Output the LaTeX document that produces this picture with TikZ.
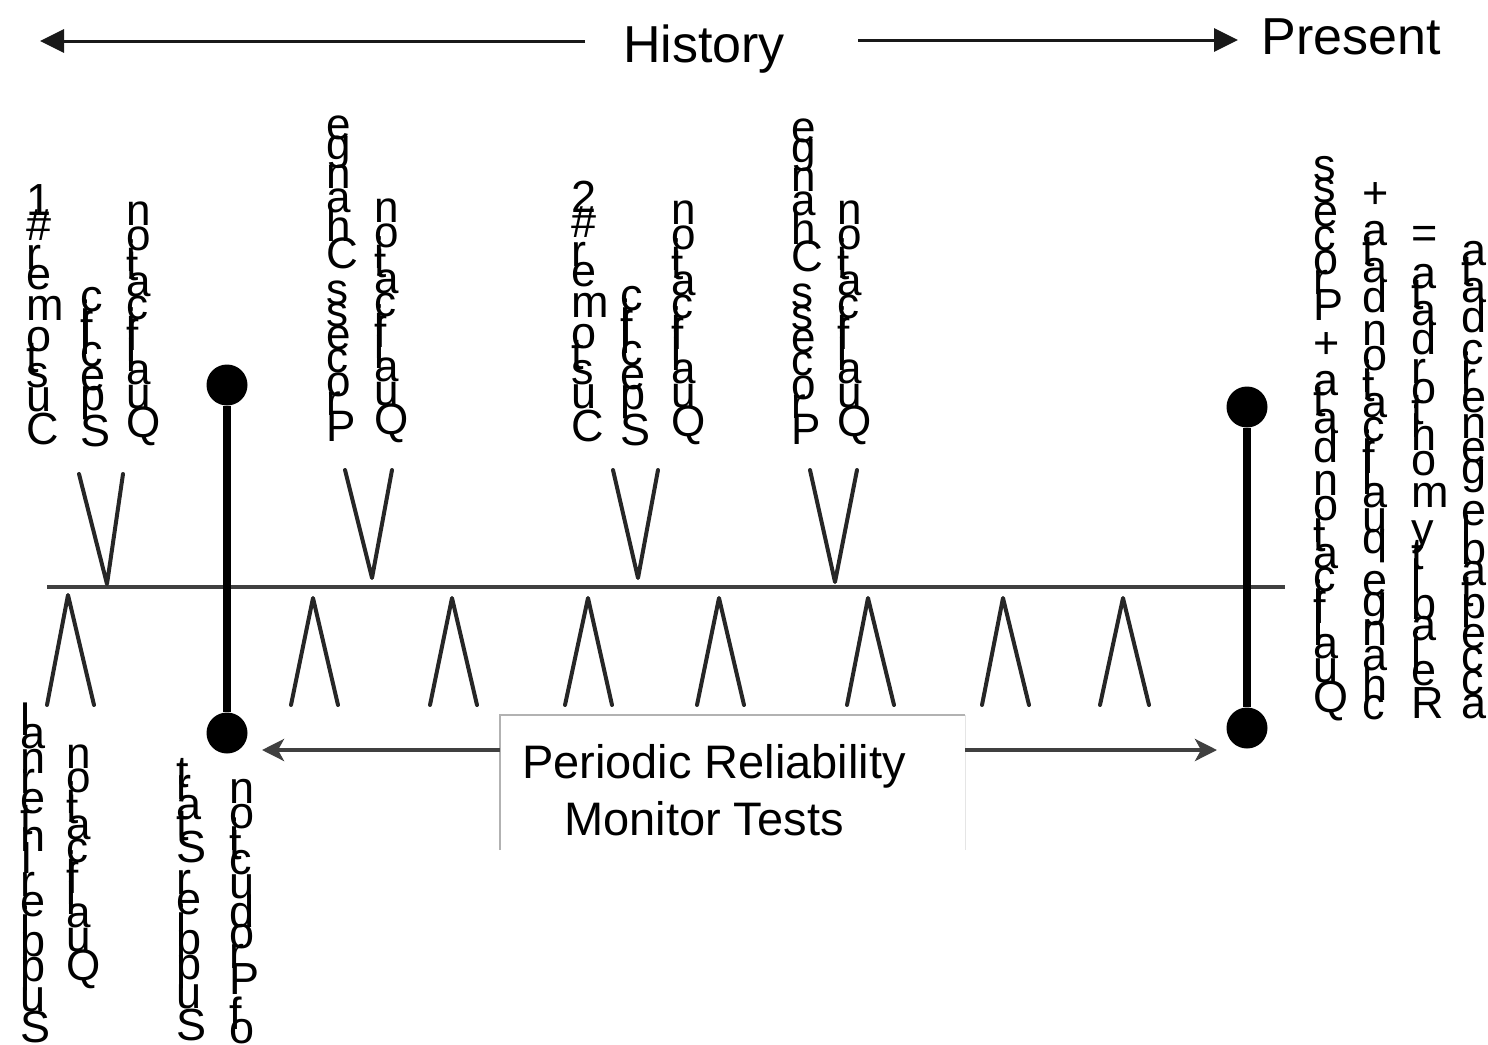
\documentclass[tikz,border=0pt]{standalone}
\usepackage{fontspec}
\setmainfont{Liberation Sans}
\usepackage{graphicx}
\usetikzlibrary{arrows.meta}
\newlength\vtw
\makeatletter
\def\vt@end{\vt@end}
\newcommand\vtext[1]{\rotatebox{90}{\vt@loop#1\vt@end}}
\def\vt@loop#1{\ifx#1\vt@end\else\vt@char{#1}\expandafter\vt@loop\fi}
\def\vt@char#1{\ifx#1~\kern\fontdimen2\font\else\settowidth\vtw{#1}\makebox[\vtw][c]{\rotatebox{-90}{#1}}\fi}
\makeatother
\tikzset{
  vcol/.style={inner sep=0pt, font=\fontsize{45}{54}\selectfont},
  vcolsm/.style={inner sep=0pt, font=\fontsize{44}{53}\selectfont},
  bigtxt/.style={inner sep=0pt, font=\fontsize{52}{62}\selectfont, anchor=base},
  boxtxt/.style={inner sep=0pt, font=\fontsize{47}{57}\selectfont, anchor=base},
  axisline/.style={line width=4pt, draw=black!75},
  fork/.style={line width=4pt, draw=black!85, line join=round, line cap=round},
  vbar/.style={line width=8pt, draw=black},
  dot/.style={circle, fill=black, minimum size=41pt, inner sep=0pt},
  toparrow/.style={line width=3pt, draw=black!90, -{Triangle[length=24pt,width=23pt]}},
  lowarrow/.style={line width=4.5pt, draw=black!75, -{Stealth[length=22pt,width=22pt,inset=6pt]}},
}
\begin{document}
\begin{tikzpicture}[x=1pt,y=-1pt]
\useasboundingbox (0,0) rectangle (1488,1044);
\clip (0,0) rectangle (1488,1044);

% top arrows
\coordinate (hA) at (585,41);
\coordinate (hL) at (40,41);
\coordinate (pA) at (858,40);
\coordinate (pR) at (1238,40);
\draw[toparrow] (hA) -- (hL);
\draw[toparrow] (pA) -- (pR);
\node[bigtxt] (history) at (704,62) {History};
\node[bigtxt] (present) at (1351,54) {Present};

% main time line
\coordinate (axL) at (47,587);
\coordinate (axR) at (1285,587);
\draw[axisline] (axL) -- (axR);

% V shapes above line
\draw[fork] (79,474) -- (107,584) -- (123,474);
\draw[fork] (345,470) -- (372,578) -- (392,470);
\draw[fork] (613,470) -- (638,578) -- (658,470);
\draw[fork] (810,470) -- (835,582) -- (857,470);

% inverted V shapes below line
\draw[fork] (47,705) -- (68,595) -- (94,705);
\draw[fork] (291,705) -- (313,598) -- (338,705);
\draw[fork] (430,705) -- (452,598) -- (477,705);
\draw[fork] (565,705) -- (588,598) -- (612,705);
\draw[fork] (697,705) -- (719,598) -- (744,705);
\draw[fork] (847,705) -- (868,598) -- (894,705);
\draw[fork] (982,705) -- (1003,598) -- (1029,705);
\draw[fork] (1100,705) -- (1123,598) -- (1149,705);

% vertical bars with dots
\node[dot] (t1) at (227,385) {};
\node[dot] (b1) at (227,733) {};
\node[dot] (t2) at (1247,407) {};
\node[dot] (b2) at (1247,728) {};
\draw[vbar] (t1) -- (b1);
\draw[vbar] (t2) -- (b2);

% box
\node[minimum width=465pt, minimum height=135pt, inner sep=0pt, fill=white] (box) at (732.5,782.5) {};
\draw[line width=1.5pt, draw=black!30] (box.south west) -- (box.north west) -- (box.north east);
\draw[line width=1pt, draw=black!10] (box.north east) -- (box.south east);
\node[boxtxt] (prl1) at (714,778) {Periodic Reliability};
\node[boxtxt] (prl2) at (704,835) {Monitor Tests};

% lower arrows
\coordinate (lowL) at (262,750);
\coordinate (lowR) at (1217,750);
\draw[lowarrow] (box.west |- lowL) -- (lowL);
\draw[lowarrow] (box.east |- lowR) -- (lowR);

% vertical labels above line
\node[vcol, anchor=south west] (l1) at (26,445) {\vtext{Customer~\#1}};
\node[vcol, anchor=south west] (l2) at (80,446) {\vtext{Specific}};
\node[vcolsm, anchor=south west] (l3) at (126,444) {\vtext{Qualification}};
\node[vcolsm, anchor=south west] (l4) at (326,441) {\vtext{Process~Change}};
\node[vcolsm, anchor=south west] (l5) at (374,441) {\vtext{Qualification}};
\node[vcol, anchor=south west] (l6) at (571,442) {\vtext{Customer~\#2}};
\node[vcol, anchor=south west] (l7) at (620,445) {\vtext{Specific}};
\node[vcolsm, anchor=south west] (l8) at (671,443) {\vtext{Qualification}};
\node[vcolsm, anchor=south west] (l9) at (791,444) {\vtext{Process~Change}};
\node[vcolsm, anchor=south west] (l10) at (837,443) {\vtext{Qualification}};

% right labels
\node[vcol, anchor=south west] (r1) at (1313,719) {\vtext{Qualification~data~+~Process}};
\node[vcol, anchor=south west] (r2) at (1362,719) {\vtext{change~qualification~data~+}};
\node[vcol, anchor=south west] (r3) at (1411,719) {\vtext{Reliability~monitor~data~=}};
\node[vcol, anchor=south west] (r4) at (1461,719) {\vtext{acceptable~generic~data}};

% labels below line
\node[vcol, anchor=north west] (s1) at (20,714) {\vtext{Supplier~Internal}};
\node[vcolsm, anchor=north west] (s2) at (66,744) {\vtext{Qualification}};
\node[vcol, anchor=north west] (s3) at (176,767) {\vtext{Supplier~Start}};
\node[vcol, anchor=north west] (s4) at (229,779) {\vtext{of~Production}};
\end{tikzpicture}
\end{document}
